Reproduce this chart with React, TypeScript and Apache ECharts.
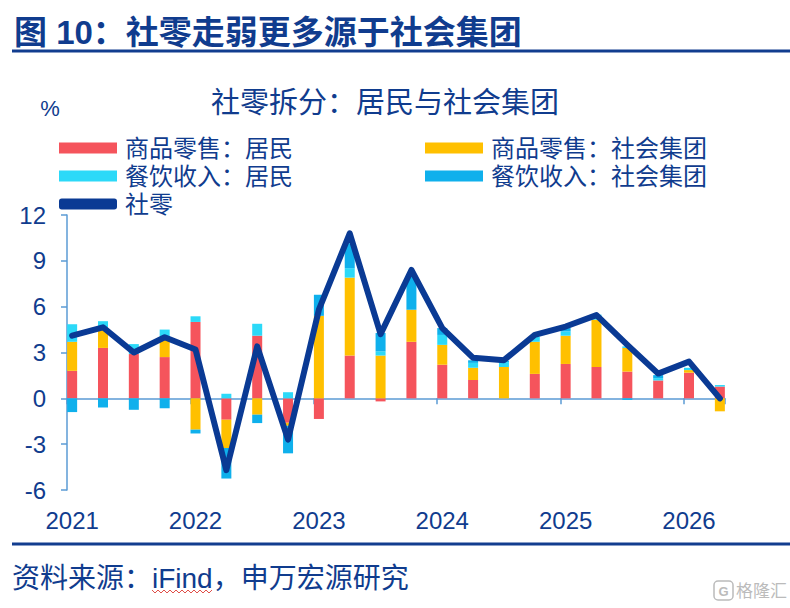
import React, { useEffect, useRef } from 'react';
import * as echarts from 'echarts';

const quarters = [
  '2021Q1', '2021Q2', '2021Q3', '2021Q4',
  '2022Q1', '2022Q2', '2022Q3', '2022Q4',
  '2023Q1', '2023Q2', '2023Q3', '2023Q4',
  '2024Q1', '2024Q2', '2024Q3', '2024Q4',
  '2025Q1', '2025Q2', '2025Q3', '2025Q4',
  '2026Q1', '2026Q2',
];
const yearLabels = ['2021', '2022', '2023', '2024', '2025', '2026'];

const retailHousehold = [1.8, 3.3, 2.9, 2.7, 5.0, -1.4, 4.1, -1.6, -1.35, 2.8, -0.2, 3.7, 2.2, 1.2, 0, 1.6, 2.25, 2.05, 1.75, 1.17, 1.68, 0.77];
const retailGroup = [1.9, 1.35, 0, 1.35, -2.05, -1.85, -1.07, -0.2, 5.4, 5.1, 2.8, 2.1, 1.3, 0.8, 2.05, 2.1, 1.85, 3.1, 1.55, 0, 0.17, -0.85];
const cateringHousehold = [1.15, 0.4, 0.65, 0.45, 0.37, 0.3, 0.78, 0.4, 0, 0.62, 0.28, 0, 0.65, 0.32, 0.32, 0.33, 0.28, 0.33, 0.1, 0.15, 0.15, 0.1];
const cateringGroup = [-0.9, -0.6, -0.75, -0.65, -0.25, -2.0, -0.55, -1.8, 1.38, 1.63, 1.2, 2.3, 0.45, 0.17, 0.1, 0, 0.22, 0, -0.1, 0.2, 0, 0];
const totalRetail = [4.1, 4.65, 3.0, 4.0, 3.2, -4.7, 3.4, -2.7, 5.8, 10.8, 4.2, 8.4, 4.6, 2.65, 2.5, 4.15, 4.7, 5.45, 3.5, 1.62, 2.4, 0.0];

const seriesNames = ['商品零售：居民', '商品零售：社会集团', '餐饮收入：居民', '餐饮收入：社会集团', '社零'];
const barColors = ['#F5545C', '#FFC000', '#2CD9F8', '#0FB0EC'];

const FONT = 'Arial, "Liberation Sans", "Noto Sans CJK SC", sans-serif';
const NAVY = '#103C8E';
const AXIS = '#5B9BD5';

// monthly axis: each quarter occupies three month slots, bar drawn on the first
const months: string[] = [];
quarters.forEach((q, i) => {
  months.push(q + '-1');
  if (i < quarters.length - 1) {
    months.push(q + '-2');
    months.push(q + '-3');
  }
});
const expand = (arr: number[]) => months.map((_, m) => (m % 3 === 0 ? arr[m / 3] : '-'));

export default function App() {
  const ref = useRef<HTMLDivElement>(null);
  useEffect(() => {
    const chart = echarts.init(ref.current!, null, { renderer: 'svg' });
    const squiggle: number[][] = [];
    for (let x = 152, k = 0; x <= 214; x += 3, k++) squiggle.push([x, k % 2 === 0 ? 590 : 593]);

    const barSeries = [retailHousehold, retailGroup, cateringHousehold, cateringGroup].map((arr, i) => ({
      name: seriesNames[i],
      type: 'bar',
      stack: 'total',
      barWidth: 10,
      xAxisIndex: 0,
      itemStyle: { color: barColors[i] },
      data: expand(arr),
      z: 2,
    }));

    const legendText = { fontSize: 24, color: NAVY, fontFamily: FONT, lineHeight: 28, padding: [0, 0, 0, 3] };

    const option: any = {
      animation: false,
      backgroundColor: '#ffffff',
      textStyle: { fontFamily: FONT },
      grid: { left: 67, right: 65, top: 215, bottom: 118, containLabel: false },
      legend: [
        {
          orient: 'vertical',
          left: 54,
          top: 129,
          itemWidth: 58,
          itemHeight: 11,
          itemGap: 0,
          icon: 'rect',
          textStyle: legendText,
          data: [seriesNames[0], seriesNames[2], { name: seriesNames[4], icon: 'roundRect' }],
          selectedMode: false,
        },
        {
          orient: 'vertical',
          left: 420,
          top: 129,
          itemWidth: 58,
          itemHeight: 11,
          itemGap: 0,
          icon: 'rect',
          textStyle: legendText,
          data: [seriesNames[1], seriesNames[3]],
          selectedMode: false,
        },
      ],
      xAxis: [
        {
          type: 'category',
          data: months,
          boundaryGap: true,
          axisLine: { show: true, onZero: true, lineStyle: { color: AXIS, width: 1.5 } },
          axisTick: {
            show: true,
            alignWithLabel: false,
            length: 6,
            interval: (index: number) => index % 12 === 0,
            lineStyle: { color: AXIS, width: 1.5 },
          },
          axisLabel: { show: false },
          splitLine: { show: false },
        },
        {
          type: 'category',
          data: months,
          boundaryGap: true,
          position: 'bottom',
          axisLine: { show: false, onZero: false },
          axisTick: { show: false },
          axisLabel: {
            show: true,
            margin: 18,
            interval: (index: number) => index % 12 === 0,
            formatter: (_v: string, index: number) => yearLabels[index / 12] ?? '',
            fontSize: 24,
            color: NAVY,
            fontFamily: FONT,
          },
          splitLine: { show: false },
        },
      ],
      yAxis: {
        type: 'value',
        min: -6,
        max: 12,
        interval: 3,
        axisLine: { show: true, lineStyle: { color: AXIS, width: 1.5 } },
        axisTick: { show: true, length: 6, lineStyle: { color: AXIS, width: 1.5 } },
        axisLabel: { margin: 21, fontSize: 24, color: NAVY, fontFamily: FONT },
        splitLine: { show: false },
      },
      series: [
        ...barSeries,
        {
          name: seriesNames[4],
          type: 'line',
          xAxisIndex: 0,
          data: expand(totalRetail),
          connectNulls: true,
          symbol: 'none',
          itemStyle: { color: '#0A3A94' },
          lineStyle: { color: '#0A3A94', width: 6, join: 'round', cap: 'round' },
          z: 10,
        },
      ],
      graphic: [
        {
          type: 'text',
          left: 14,
          top: 16,
          style: { text: '图 10：社零走弱更多源于社会集团', font: `bold 33px ${FONT}`, fill: NAVY },
        },
        { type: 'line', shape: { x1: 12, y1: 51, x2: 790, y2: 51 }, style: { stroke: '#123D8F', lineWidth: 3 } },
        {
          type: 'text',
          x: 385,
          y: 103,
          style: { text: '社零拆分：居民与社会集团', font: `29px ${FONT}`, fill: NAVY, textAlign: 'center', textVerticalAlign: 'middle' },
        },
        {
          type: 'text',
          x: 50,
          y: 108,
          style: { text: '%', font: `22px ${FONT}`, fill: NAVY, textAlign: 'center', textVerticalAlign: 'middle' },
        },
        { type: 'line', shape: { x1: 12, y1: 544, x2: 790, y2: 544 }, style: { stroke: '#123D8F', lineWidth: 3 } },
        {
          type: 'text',
          x: 12,
          y: 578,
          style: { text: '资料来源：iFind，申万宏源研究', font: `28px ${FONT}`, fill: NAVY, textVerticalAlign: 'middle' },
        },
        { type: 'polyline', shape: { points: squiggle }, style: { stroke: '#E0504A', lineWidth: 1, fill: null } },
        { type: 'rect', shape: { x: 714, y: 581, width: 19, height: 19, r: 4 }, style: { stroke: '#BBBBBB', lineWidth: 1.5, fill: null } },
        {
          type: 'text',
          x: 723.5,
          y: 591,
          style: { text: 'G', font: `bold 13px ${FONT}`, fill: '#BBBBBB', textAlign: 'center', textVerticalAlign: 'middle' },
        },
        {
          type: 'text',
          x: 736,
          y: 591,
          style: { text: '格隆汇', font: `17px ${FONT}`, fill: '#BBBBBB', textVerticalAlign: 'middle' },
        },
      ],
    };
    chart.setOption(option);
    return () => chart.dispose();
  }, []);
  return (
    <div
      ref={ref}
      style={{ position: 'fixed', left: 0, top: 0, width: 790, height: 608, background: '#ffffff' }}
    />
  );
}
